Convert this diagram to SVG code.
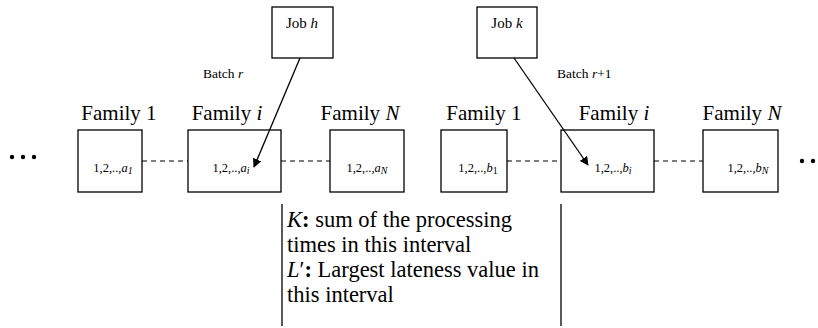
<svg xmlns="http://www.w3.org/2000/svg" width="818" height="328" viewBox="0 0 818 328">
  <style>
    .box { fill: #fff; stroke: #000; stroke-width: 1.3; }
    .dash { stroke: #000; stroke-width: 1.2; stroke-dasharray: 5 4; fill: none; }
    .link { stroke: #000; stroke-width: 1.3; fill: none; }
    .rule { stroke: #000; stroke-width: 1.3; }
    text { font-family: "Liberation Serif", "Times New Roman", serif; fill: #000; }
    .fam { font-size: 21px; text-anchor: middle; }
    .jobs { font-size: 12.5px; text-anchor: middle; }
    .job { font-size: 15px; text-anchor: middle; }
    .batch { font-size: 13.5px; }
    .note { font-size: 22.5px; }
    .it { font-style: italic; }
  </style>
  <defs>
    <marker id="arrow" viewBox="0 0 10 10" refX="9" refY="5" markerWidth="9" markerHeight="9" markerUnits="userSpaceOnUse" orient="auto">
      <path d="M0,0 L10,5 L0,10 z" fill="#000"/>
    </marker>
  </defs>

  <!-- ellipses on either side -->
  <g id="dots-left">
    <circle cx="12" cy="157" r="2.2"/>
    <circle cx="23" cy="157" r="2.2"/>
    <circle cx="34" cy="157" r="2.2"/>
  </g>
  <g id="dots-right">
    <circle cx="802" cy="161" r="2.2"/>
    <circle cx="813" cy="161" r="2.2"/>
  </g>

  <!-- jobs -->
  <g id="job-h">
    <rect class="box" x="272" y="7" width="61" height="51"/>
    <text class="job" x="302" y="28">Job <tspan class="it">h</tspan></text>
  </g>
  <g id="job-k">
    <rect class="box" x="477" y="7" width="60" height="51"/>
    <text class="job" x="507" y="28">Job <tspan class="it">k</tspan></text>
  </g>

  <text class="batch" x="203" y="78">Batch <tspan class="it">r</tspan></text>
  <text class="batch" x="557" y="78">Batch <tspan class="it">r</tspan>+1</text>

  <!-- batch r families -->
  <g id="r-family-1">
    <text class="fam" x="119" y="120">Family 1</text>
    <rect class="box" x="78" y="130" width="64" height="62"/>
    <text class="jobs" x="113" y="172">1,2,..,<tspan class="it">a</tspan><tspan class="it" font-size="10" dy="2">1</tspan></text>
  </g>
  <g id="r-family-i">
    <text class="fam" x="227" y="120">Family <tspan class="it">i</tspan></text>
    <rect class="box" x="188" y="130" width="93" height="62"/>
    <text class="jobs" x="231" y="172">1,2,..,<tspan class="it">a</tspan><tspan class="it" font-size="10" dy="2">i</tspan></text>
  </g>
  <g id="r-family-n">
    <text class="fam" x="360" y="120">Family <tspan class="it">N</tspan></text>
    <rect class="box" x="330" y="130" width="74" height="62"/>
    <text class="jobs" x="367" y="172">1,2,..,<tspan class="it">a</tspan><tspan class="it" font-size="10" dy="2">N</tspan></text>
  </g>

  <!-- batch r+1 families -->
  <g id="s-family-1">
    <text class="fam" x="484" y="120">Family 1</text>
    <rect class="box" x="441" y="130" width="66" height="62"/>
    <text class="jobs" x="478" y="172">1,2,..,<tspan class="it">b</tspan><tspan font-size="10" dy="2">1</tspan></text>
  </g>
  <g id="s-family-i">
    <text class="fam" x="614" y="120">Family <tspan class="it">i</tspan></text>
    <rect class="box" x="561" y="130" width="93" height="62"/>
    <text class="jobs" x="613" y="172">1,2,..,<tspan class="it">b</tspan><tspan class="it" font-size="10" dy="2">i</tspan></text>
  </g>
  <g id="s-family-n">
    <text class="fam" x="742" y="120">Family <tspan class="it">N</tspan></text>
    <rect class="box" x="703" y="130" width="75" height="62"/>
    <text class="jobs" x="748" y="172">1,2,..,<tspan class="it">b</tspan><tspan class="it" font-size="10" dy="2">N</tspan></text>
  </g>

  <!-- connectors, drawn over the boxes -->
  <g id="connectors">
    <line class="dash" x1="142" y1="161" x2="188" y2="161"/>
    <line class="dash" x1="281" y1="161" x2="330" y2="161"/>
    <line class="dash" x1="507" y1="161" x2="561" y2="161"/>
    <line class="dash" x1="654" y1="161" x2="703" y2="161"/>
    <line class="link" x1="300" y1="58" x2="254" y2="167" marker-end="url(#arrow)"/>
    <line class="link" x1="514" y1="58" x2="588" y2="165" marker-end="url(#arrow)"/>
  </g>

  <!-- interval between the two family-i batches -->
  <g id="interval">
    <line class="rule" x1="282" y1="204" x2="282" y2="326"/>
    <line class="rule" x1="561" y1="204" x2="561" y2="326"/>
    <text class="note" x="287" y="227"><tspan class="it">K</tspan><tspan font-weight="bold">:</tspan> sum of the processing</text>
    <text class="note" x="287" y="252">times in this interval</text>
    <text class="note" x="287" y="277"><tspan class="it">L</tspan>′<tspan font-weight="bold">:</tspan> Largest lateness value in</text>
    <text class="note" x="287" y="302">this interval</text>
  </g>
</svg>
